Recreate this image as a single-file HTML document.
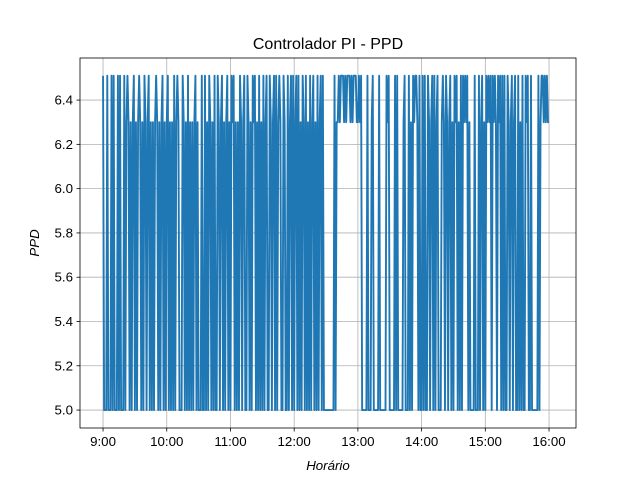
<!DOCTYPE html>
<html><head><meta charset="utf-8"><style>
body{margin:0;background:#fff;}
svg text{font-family:"Liberation Sans",sans-serif;}
</style></head><body>
<svg id="chart" width="640" height="480">
<rect width="640" height="480" fill="#fff"/>
<g id="grid"></g>
<g id="series"></g>
<rect x="80" y="58" width="496" height="370" fill="none" stroke="#000" stroke-width="0.8"/>
<g id="axes"></g>
<text x="328" y="49" font-size="16" text-anchor="middle">Controlador PI - PPD</text>
<text x="328" y="470" font-size="13.3" font-style="italic" text-anchor="middle">Horário</text>
<text x="39" y="243" font-size="13.3" font-style="italic" text-anchor="middle" transform="rotate(-90 39 243)">PPD</text>
</svg>
<script>
// data: one sample per minute from 9:00; a=5.0, b=6.3, c=6.51
const levelCodes = {a:5.0, b:6.3, c:6.51};
const seriesCodes = [
"caaacaaacacaaacacaaacabcbababc",
"ababcbabacbabcabababcbababcaba",
"bcababacabcbaaacbabacabababcab",
"aaacaacabacbabacaacbabcababcab",
"acbcababacbabcaacbabacbcabacab",
"acabcaacbabcacabcbaacbaacabcac",
"abcacabacbacabacabcabacabcacaa",
"aaaaaaaacabbcbcccbcbcccbcbcccb",
"bcbcaaaaacaaabcaaaaacaaaaaacbc",
"aaaaacacaaaaabcaaacabacbccbaca",
"acacaacbabcacabcaaabcbacbabcab",
"acbcabacacbcbcabaaaacaaacabcab",
"acbcbcacbcbacbcacacaacbabcabca",
"acabacaacbcaacaaaaaacabccbcbcbb"
];
const xTickLabels = ["9:00","10:00","11:00","12:00","13:00","14:00","15:00","16:00"];
const xTickMinutes = [0,60,120,180,240,300,360,420];
const yTicks = [5.0,5.2,5.4,5.6,5.8,6.0,6.2,6.4];

const L=80,R=576,T=58,B=428;
const xMin=-21.7,xMax=445.4,yMin=4.919,yMax=6.59;
const sx=m=>L+(m-xMin)/(xMax-xMin)*(R-L);
const sy=v=>B-(v-yMin)/(yMax-yMin)*(B-T);
const NS="http://www.w3.org/2000/svg";
const grid=document.getElementById('grid'),axes=document.getElementById('axes'),series=document.getElementById('series');
function mk(tag,attrs){const e=document.createElementNS(NS,tag);for(const k in attrs)e.setAttribute(k,attrs[k]);return e;}
xTickMinutes.forEach((m,i)=>{
  const x=sx(m);
  const g=mk('line',{x1:x,x2:x,y1:T,y2:B,stroke:'#b0b0b0','stroke-width':0.8});
  
  
  grid.appendChild(g);
  const t=mk('line',{x1:x,x2:x,y1:B,y2:B+3.5,stroke:'#000','stroke-width':0.8});
  
  
  axes.appendChild(t);
  const l=mk('text',{x:x,y:B+18,'font-size':13.3,'text-anchor':'middle'});
  l.textContent=xTickLabels[i];
  
  
  axes.appendChild(l);
});
yTicks.forEach(v=>{
  const y=sy(v);
  const g=mk('line',{x1:L,x2:R,y1:y,y2:y,stroke:'#b0b0b0','stroke-width':0.8});
  
  
  grid.appendChild(g);
  const t=mk('line',{x1:L-3.5,x2:L,y1:y,y2:y,stroke:'#000','stroke-width':0.8});
  
  
  axes.appendChild(t);
  const l=mk('text',{x:L-7,y:y+4.5,'font-size':13.3,'text-anchor':'end'});
  l.textContent=v.toFixed(1);
  
  
  axes.appendChild(l);
});
const values=seriesCodes.join('').split('').map(c=>levelCodes[c]);
const pts=values.map((v,i)=>sx(i).toFixed(2)+','+sy(v).toFixed(2)).join(' ');
const line=mk('polyline',{points:pts,fill:'none',stroke:'#1f77b4','stroke-width':1.9,'stroke-linejoin':'round'});


series.appendChild(line);
</script>
</body></html>
